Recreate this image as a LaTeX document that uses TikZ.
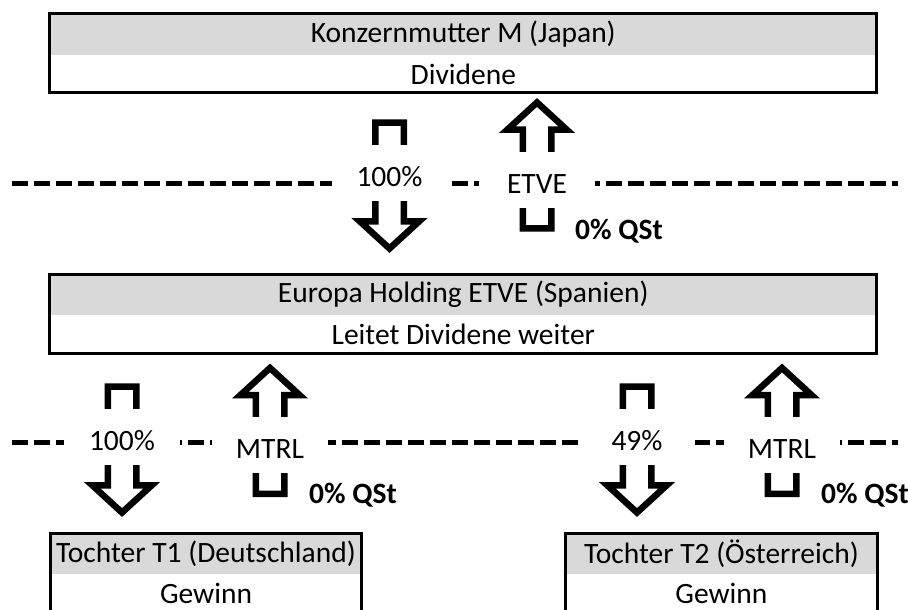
\documentclass[tikz,border=0pt]{standalone}
\usepackage{fontspec}
\setmainfont{Carlito}
\usetikzlibrary{positioning,shapes.arrows}
\definecolor{headgray}{HTML}{D9D9D9}
\newcommand{\boxfont}{\fontsize{29.5}{34}\selectfont}

\begin{document}
\begin{tikzpicture}
      [   x=1pt,y=-1pt,
          headbox/.style={fill=headgray,minimum width=#1,minimum height=41pt,inner sep=0pt,outer sep=0pt,font=\boxfont},
          bodybox/.style={fill=white,minimum width=#1,minimum height=38pt,inner sep=0pt,outer sep=0pt,font=\boxfont},
          frame/.style={draw=black,line width=3pt},
          sepline/.style={draw=black,line width=5pt,dash pattern=on 16pt off 6pt},
          flowarrow/.style={single arrow,draw=black,fill=white,line width=6.5pt,
              minimum height=126pt,minimum width=57pt,inner xsep=11pt,inner ysep=0pt,
              single arrow head extend=15.5pt,single arrow tip angle=95,shape border rotate=#1},
          flowlabel/.style={fill=white,minimum width=116pt,minimum height=56pt,inner sep=0pt,
              text height=27pt,text depth=0pt,font=\boxfont},
          taxlabel/.style={anchor=base west,inner sep=0pt,font=\boxfont\bfseries},
      ]
          \useasboundingbox (0,0) rectangle (908,610);
          % boxes
          \node[headbox=827pt] (mhead) at (463.3,34.5) {Konzernmutter M (Japan)};
          \node[bodybox=827pt,below=0pt of mhead] (mbody) {Dividene};
          \draw[frame] (mhead.north west) rectangle (mbody.south east);
          \node[headbox=827pt] (hhead) at (463.3,294.5) {Europa Holding ETVE (Spanien)};
          \node[bodybox=827pt,below=0pt of hhead] (hbody) {Leitet Dividene weiter};
          \draw[frame] (hhead.north west) rectangle (hbody.south east);
          \node[headbox=311pt] (tonehead) at (206,553.5) {Tochter T1 (Deutschland)};
          \node[bodybox=311pt,below=0pt of tonehead] (tonebody) {Gewinn};
          \draw[frame] (tonehead.north west) rectangle (tonebody.south east);
          \node[headbox=312pt] (ttwohead) at (721.4,553.5) {Tochter T2 (Österreich)};
          \node[bodybox=312pt,below=0pt of ttwohead] (ttwobody) {Gewinn};
          \draw[frame] (ttwohead.north west) rectangle (ttwobody.south east);
          % upper level
          \coordinate (sepupL) at (12,183);
          \coordinate (sepupR) at (898,183);
          \draw[sepline] (sepupL) -- (sepupR);
          \node[flowarrow=270] (divdown) at (389.5,179) {};
          \node[flowarrow=90] (etveup) at (537,172) {};
          \node[flowlabel] (divshare) at (389.5,172.5) {100\%};
          \node[flowlabel] (etvename) at (537,180) {ETVE};
          \node[taxlabel] (etvetax) at (575,239) {0\% QSt};
          % lower level
          \coordinate (seplowL) at (12,442);
          \coordinate (seplowR) at (898,442);
          \draw[sepline] (seplowL) -- (seplowR);
          \foreach \xd/\xu/\share/\nm in {122/270/100\%/one,637/782/49\%/two}
          {   \node[flowarrow=270] (down-\nm) at (\xd,443) {};
              \node[flowarrow=90] (up-\nm) at (\xu,437.5) {};
              \node[flowlabel] (share-\nm) at (\xd,436.5) {\share};
              \node[flowlabel] (mtrl-\nm) at (\xu,444.5) {MTRL};
              \node[taxlabel] (tax-\nm) at (\xu+39,503) {0\% QSt};
          }
    \end{tikzpicture}
\end{document}
